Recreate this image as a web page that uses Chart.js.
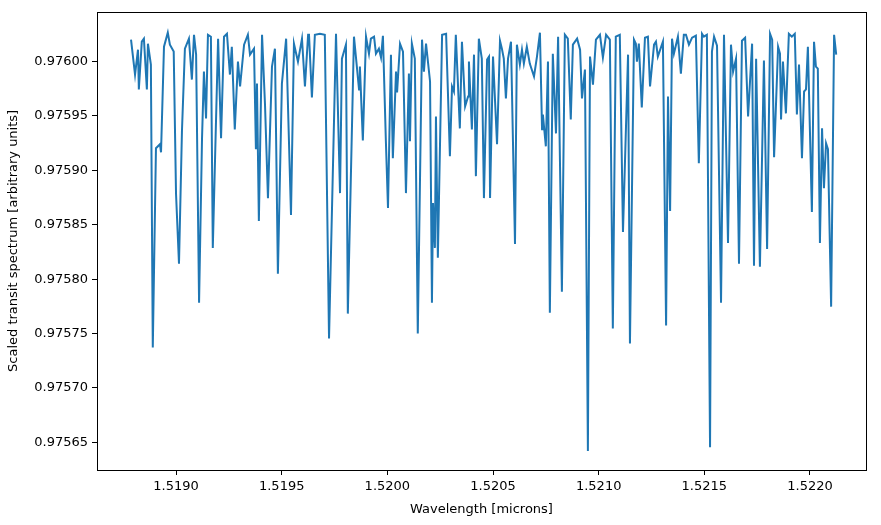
<!DOCTYPE html>
<html><head><meta charset="utf-8">
<script src="https://cdn.jsdelivr.net/npm/chart.js@4"></script>
<style>html,body{margin:0;padding:0;background:#fff}#w{width:881px;height:525px}</style>
</head><body><div id="w"><canvas id="c"></canvas></div>
<script>
const wavelength = [1.518787,1.518806,1.518820,1.518824,1.518838,1.518848,1.518862,1.518867,1.518881,1.518890,1.518905,1.518924,1.518929,1.518943,1.518961,1.518971,1.518989,1.519000,1.519014,1.519028,1.519042,1.519061,1.519075,1.519085,1.519095,1.519109,1.519123,1.519132,1.519142,1.519151,1.519165,1.519174,1.519199,1.519213,1.519227,1.519241,1.519255,1.519264,1.519278,1.519293,1.519303,1.519322,1.519340,1.519350,1.519369,1.519378,1.519383,1.519392,1.519407,1.519421,1.519435,1.519454,1.519468,1.519482,1.519501,1.519521,1.519544,1.519558,1.519577,1.519596,1.519610,1.519625,1.519629,1.519643,1.519657,1.519681,1.519704,1.519724,1.519757,1.519776,1.519785,1.519804,1.519813,1.519842,1.519866,1.519870,1.519884,1.519899,1.519913,1.519922,1.519937,1.519946,1.519960,1.519970,1.519979,1.519993,1.520003,1.520017,1.520026,1.520041,1.520046,1.520060,1.520074,1.520088,1.520102,1.520107,1.520116,1.520130,1.520144,1.520164,1.520173,1.520183,1.520202,1.520211,1.520216,1.520225,1.520230,1.520239,1.520259,1.520278,1.520296,1.520306,1.520315,1.520324,1.520343,1.520353,1.520368,1.520382,1.520386,1.520400,1.520410,1.520419,1.520433,1.520447,1.520457,1.520472,1.520481,1.520486,1.520500,1.520519,1.520533,1.520542,1.520551,1.520561,1.520571,1.520585,1.520604,1.520613,1.520627,1.520637,1.520646,1.520660,1.520674,1.520694,1.520708,1.520722,1.520732,1.520736,1.520750,1.520760,1.520769,1.520783,1.520798,1.520808,1.520826,1.520840,1.520854,1.520868,1.520878,1.520898,1.520912,1.520921,1.520935,1.520949,1.520959,1.520973,1.520987,1.521006,1.521020,1.521035,1.521053,1.521067,1.521081,1.521100,1.521115,1.521139,1.521148,1.521167,1.521176,1.521181,1.521190,1.521204,1.521219,1.521233,1.521243,1.521262,1.521271,1.521280,1.521304,1.521319,1.521328,1.521338,1.521347,1.521356,1.521375,1.521389,1.521403,1.521413,1.521427,1.521442,1.521460,1.521474,1.521489,1.521498,1.521512,1.521527,1.521536,1.521546,1.521560,1.521579,1.521593,1.521612,1.521626,1.521636,1.521650,1.521664,1.521678,1.521693,1.521707,1.521726,1.521735,1.521745,1.521763,1.521782,1.521797,1.521811,1.521821,1.521830,1.521849,1.521858,1.521863,1.521872,1.521886,1.521900,1.521914,1.521928,1.521938,1.521948,1.521962,1.521972,1.521981,1.521990,1.522009,1.522019,1.522028,1.522037,1.522047,1.522057,1.522066,1.522076,1.522085,1.522100,1.522114,1.522124];
const transit = [0.9760202,0.9759881,0.9760110,0.9759744,0.9760183,0.9760211,0.9759744,0.9760165,0.9759973,0.9757371,0.9759203,0.9759240,0.9759166,0.9760137,0.9760266,0.9760156,0.9760092,0.9758782,0.9758141,0.9759359,0.9760119,0.9760211,0.9759835,0.9760247,0.9760064,0.9757783,0.9759295,0.9759908,0.9759478,0.9760247,0.9760229,0.9758287,0.9760211,0.9759295,0.9760229,0.9760256,0.9759881,0.9760137,0.9759377,0.9760000,0.9759771,0.9760156,0.9760247,0.9760064,0.9760119,0.9759194,0.9759798,0.9758534,0.9760247,0.9759606,0.9758745,0.9759954,0.9760119,0.9758049,0.9759798,0.9760211,0.9758589,0.9760165,0.9760000,0.9760211,0.9759771,0.9760247,0.9760256,0.9759670,0.9760247,0.9760256,0.9760247,0.9757454,0.9760256,0.9758791,0.9760027,0.9760156,0.9757683,0.9760229,0.9759744,0.9759954,0.9759276,0.9760229,0.9760073,0.9760211,0.9760229,0.9760073,0.9760119,0.9760037,0.9760238,0.9759267,0.9758654,0.9760064,0.9759112,0.9759908,0.9759716,0.9760165,0.9760092,0.9758791,0.9759890,0.9759267,0.9760165,0.9760027,0.9757500,0.9760202,0.9759908,0.9760165,0.9759817,0.9757783,0.9758699,0.9758287,0.9759496,0.9758196,0.9760247,0.9760256,0.9759130,0.9759771,0.9759725,0.9760247,0.9759386,0.9760183,0.9759588,0.9759679,0.9760000,0.9759377,0.9760064,0.9758947,0.9760211,0.9760027,0.9758745,0.9760018,0.9760046,0.9758745,0.9760046,0.9759240,0.9760192,0.9760119,0.9760027,0.9759661,0.9760027,0.9760183,0.9758324,0.9760156,0.9759973,0.9760110,0.9759982,0.9760137,0.9759982,0.9759863,0.9760046,0.9760266,0.9759377,0.9759514,0.9759221,0.9760000,0.9757692,0.9760073,0.9759340,0.9760229,0.9757884,0.9760247,0.9760211,0.9759469,0.9760156,0.9760211,0.9760110,0.9759661,0.9759927,0.9756419,0.9760046,0.9759789,0.9760202,0.9760247,0.9760037,0.9760247,0.9760202,0.9757545,0.9760229,0.9760247,0.9758434,0.9760064,0.9757408,0.9760202,0.9760165,0.9760000,0.9760165,0.9759579,0.9760220,0.9760229,0.9759771,0.9760156,0.9760183,0.9760046,0.9760183,0.9757573,0.9759679,0.9758626,0.9760211,0.9760073,0.9760229,0.9759890,0.9760247,0.9760247,0.9760156,0.9760220,0.9760238,0.9759066,0.9760256,0.9760229,0.9760247,0.9756455,0.9760092,0.9760229,0.9760147,0.9757783,0.9760247,0.9758333,0.9760156,0.9759908,0.9760027,0.9758141,0.9760192,0.9760220,0.9759496,0.9760165,0.9758122,0.9760027,0.9758113,0.9760009,0.9758278,0.9760256,0.9760202,0.9759121,0.9760137,0.9760073,0.9759469,0.9760000,0.9759524,0.9760256,0.9760229,0.9760256,0.9759514,0.9759973,0.9759112,0.9759725,0.9759744,0.9760137,0.9758617,0.9760183,0.9759954,0.9759936,0.9758333,0.9759386,0.9758837,0.9759249,0.9759194,0.9757747,0.9760247,0.9760064,0.9760165];
const xTicks = [1.5190,1.5195,1.5200,1.5205,1.5210,1.5215,1.5220];
const yTicks = [0.97565,0.97570,0.97575,0.97580,0.97585,0.97590,0.97595,0.97600];

const font = {family:'DejaVu Sans', size:13};
const frame = {id:'frame', afterDraw(c){const a=c.chartArea,x=c.ctx;x.save();x.strokeStyle='#000';x.lineWidth=1;x.strokeRect(Math.round(a.left)+0.5,Math.round(a.top)+0.5,Math.round(a.right-a.left),Math.round(a.bottom-a.top));x.restore();}};
new Chart(document.getElementById('c'), {
  type:'line',
  data:{datasets:[{data:wavelength.map((w,i)=>({x:w,y:transit[i]})), borderColor:'#1f77b4', borderWidth:2, pointRadius:0, tension:0, fill:false}]},
  options:{
    responsive:true, maintainAspectRatio:false, animation:false,
    layout:{padding:{left:0,right:15,top:10,bottom:0}},
    plugins:{legend:{display:false}, tooltip:{enabled:false}},
    scales:{
      x:{type:'linear', min:1.518626, max:1.522265,
        afterBuildTicks:s=>{s.ticks=xTicks.map(v=>({value:v}));},
        afterFit:s=>{s.height=55;},
        ticks:{color:'#000', font, padding:4, maxRotation:0, callback:v=>v.toFixed(4)},
        grid:{drawOnChartArea:false, color:'#000', tickLength:5, drawTicks:true},
        border:{display:false},
        title:{display:true, text:'Wavelength [microns]', color:'#000', font, padding:{top:0,bottom:8}}},
      y:{min:0.9756245, max:0.9760458,
        afterBuildTicks:s=>{s.ticks=yTicks.map(v=>({value:v}));},
        afterFit:s=>{s.width=97;},
        ticks:{color:'#000', font, padding:4, callback:v=>v.toFixed(5)},
        grid:{drawOnChartArea:false, color:'#000', tickLength:5},
        border:{display:false},
        title:{display:true, text:'Scaled transit spectrum [arbitrary units]', color:'#000', font, padding:{top:6,bottom:0}}}
    }
  },
  plugins:[frame]
});
</script></body></html>
